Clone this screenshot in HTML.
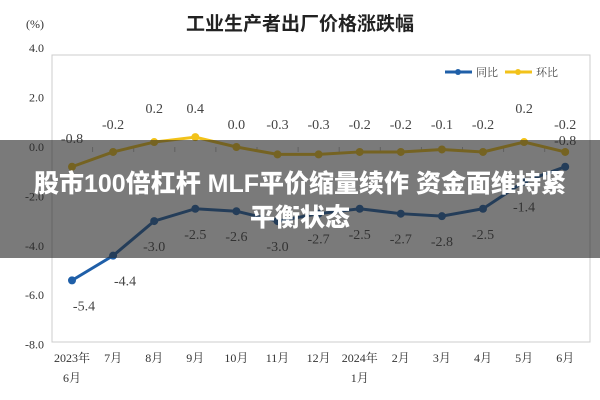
<!DOCTYPE html>
<html><head><meta charset="utf-8"><style>
body{margin:0;width:600px;height:400px;overflow:hidden;background:#fff;font-family:"Liberation Serif","Noto Serif CJK SC",serif}
svg{position:absolute;left:0;top:0}
#overlay{position:absolute;left:0;top:140px;width:600px;height:118px;background:rgba(40,40,40,0.62);color:#fff;font-family:"Liberation Sans","Noto Sans CJK SC",sans-serif;font-weight:900;font-size:25px;text-align:center;line-height:34px;padding-top:27px;box-sizing:border-box;white-space:nowrap}
</style></head><body>
<svg id="chart" width="600" height="400"></svg>
<div id="overlay">股市100倍杠杆 MLF平价缩量续作 资金面维持紧<br>平衡状态</div>
<script>
const categories=["2023年|6月","7月","8月","9月","10月","11月","12月","2024年|1月","2月","3月","4月","5月","6月"];
const yoy=[-5.4,-4.4,-3.0,-2.5,-2.6,-3.0,-2.7,-2.5,-2.7,-2.8,-2.5,-1.4,-0.8];
const mom=[-0.8,-0.2,0.2,0.4,0.0,-0.3,-0.3,-0.2,-0.2,-0.1,-0.2,0.2,-0.2];
const yTicks=[4,2,0,-2,-4,-6,-8];
const svg=document.getElementById('chart');const NS='http://www.w3.org/2000/svg';
function el(t,a,txt){const e=document.createElementNS(NS,t);for(const k in a)e.setAttribute(k,a[k]);if(txt!==undefined)e.textContent=txt;svg.appendChild(e);return e;}
const x=i=>72+i*41.1, y=v=>147-v*24.7;
let e;
e=el('text',{x:300,y:30,'text-anchor':'middle','font-size':19,'font-weight':'bold','font-family':'"Liberation Sans","Noto Sans CJK SC",sans-serif',fill:'#222'},'工业生产者出厂价格涨跌幅');

e=el('text',{x:26,y:28,'font-size':12,fill:'#333'},'(%)');

e=el('rect',{x:52,y:55,width:538,height:287,fill:'none',stroke:'#ccc'});

yTicks.forEach(v=>{e=el('text',{x:44,y:y(v)+4,'text-anchor':'end','font-size':12,fill:'#333'},v.toFixed(1));
});
categories.forEach((c,i)=>{const p=c.split('|');p.forEach((s,j)=>{e=el('text',{x:x(i),y:362+j*20,'text-anchor':'middle','font-size':12,fill:'#333'},s);
});
if(i>0){e=el('line',{x1:x(i)-20.5,x2:x(i)-20.5,y1:147,y2:152,stroke:'#bbb'});}});
function series(d,col,name,lab){
 e=el('polyline',{points:d.map((v,i)=>x(i)+','+y(v)).join(' '),fill:'none',stroke:col,'stroke-width':3});
 
 d.forEach((v,i)=>{e=el('circle',{cx:x(i),cy:y(v),r:4,fill:col});
 
 const ly=lab(v,i);e=el('text',{x:x(i)+(name==='yoy'&&i<2?12:0),y:ly,'text-anchor':'middle','font-size':14,fill:'#444'},v.toFixed(1));
 });
}
series(mom,'#f2c21a','mom',(v,i)=>i===0?143:(v>0.1?113:129));
series(yoy,'#1f5fa8','yoy',(v,i)=>y(v)+(i===12?-22:30));
e=el('line',{x1:445,x2:472,y1:72,y2:72,stroke:'#1f5fa8','stroke-width':3});
e=el('circle',{cx:458,cy:72,r:3,fill:'#1f5fa8'});
e=el('text',{x:476,y:76,'font-size':11,fill:'#444'},'同比');
e=el('line',{x1:505,x2:532,y1:72,y2:72,stroke:'#f2c21a','stroke-width':3});
e=el('circle',{cx:518,cy:72,r:3,fill:'#f2c21a'});
e=el('text',{x:536,y:76,'font-size':11,fill:'#444'},'环比');
</script>
</body></html>
